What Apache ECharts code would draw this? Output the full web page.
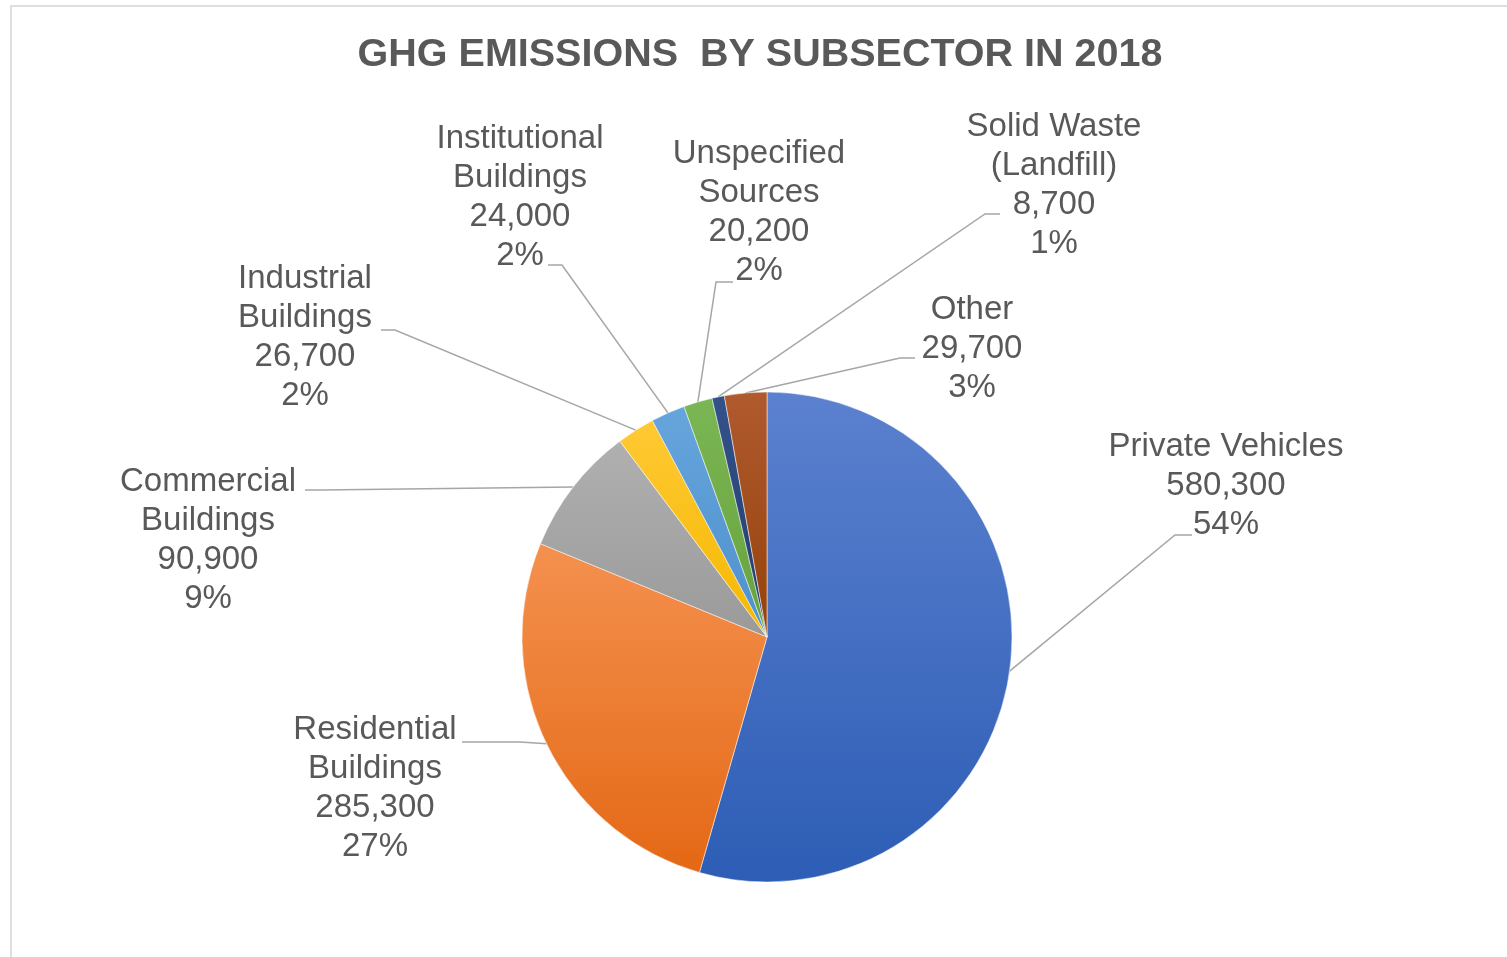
<!DOCTYPE html>
<html>
<head>
<meta charset="utf-8">
<title>GHG Emissions by Subsector in 2018</title>
<script src="https://cdn.jsdelivr.net/npm/echarts@6/dist/echarts.min.js"></script>
<style>
  html, body { margin: 0; padding: 0; background: #fff; }
  #chart { width: 1507px; height: 957px; }
</style>
</head>
<body>
<div id="chart"></div>
<script>
// data
var categories = ['Private Vehicles', 'Residential\nBuildings', 'Commercial\nBuildings', 'Industrial\nBuildings',
  'Institutional\nBuildings', 'Unspecified\nSources', 'Solid Waste\n(Landfill)', 'Other'];
var emissions = [580300, 285300, 90900, 26700, 24000, 20200, 8700, 29700];
var percentLabels = [54, 27, 9, 2, 2, 2, 1, 3];

// slice colours, light (top) -> dark (bottom)
var colors = [
  ['#5b81cf', '#2d5db5'],
  ['#f4914f', '#e46815'],
  ['#b0b0b0', '#9a9a9a'],
  ['#ffc934', '#f5b800'],
  ['#66a5dc', '#4f90cc'],
  ['#7bb654', '#66a23d'],
  ['#34528a', '#223d6d'],
  ['#b05a2e', '#94420c']
];

// label placement: centre of the text block, leader elbow, leader end
var labelPos = [
  { c: [1226, 486], elbow: [1175, 535], end: [1192, 535] },
  { c: [375, 788], elbow: [520, 742], end: [462, 742] },
  { c: [208, 540], elbow: [320, 490], end: [305, 490] },
  { c: [305, 337], elbow: [395, 330], end: [381, 330] },
  { c: [520, 197], elbow: [562, 265], end: [548, 265] },
  { c: [759, 212], elbow: [716, 282], end: [733, 282] },
  { c: [1054, 185], elbow: [985, 214], end: [1000, 214] },
  { c: [972, 349], elbow: [900, 358], end: [915, 358] }
];

function fmt(n) {
  return n.toString().replace(/\B(?=(\d{3})+(?!\d))/g, ',');
}

var chart = echarts.init(document.getElementById('chart'));

var option = {
  backgroundColor: '#fff',
  animation: false,
  title: {
    text: 'GHG EMISSIONS  BY SUBSECTOR IN 2018',
    left: 760,
    textAlign: 'center',
    top: 35,
    padding: 0,
    textStyle: {
      fontFamily: 'Liberation Sans, Arial, sans-serif',
      fontSize: 39.5,
      fontWeight: 'bold',
      color: '#595959'
    }
  },
  graphic: [{
    type: 'rect',
    silent: true,
    shape: { x: 11, y: 6, width: 3000, height: 3000 },
    style: { fill: 'none', stroke: '#dedede', lineWidth: 2 }
  }],
  series: [{
    type: 'pie',
    center: [767, 637],
    radius: 245,
    startAngle: 90,
    clockwise: true,
    avoidLabelOverlap: false,
    itemStyle: { borderColor: '#fff', borderWidth: 0.5 },
    label: {
      show: true,
      position: 'outside',
      fontFamily: 'Liberation Sans, Arial, sans-serif',
      fontSize: 33,
      lineHeight: 39,
      color: '#595959',
      align: 'center',
      formatter: function (p) {
        return p.name + '\n' + fmt(p.value) + '\n' + percentLabels[p.dataIndex] + '%';
      }
    },
    labelLine: {
      show: true,
      lineStyle: { color: '#a6a6a6', width: 1.5 }
    },
    labelLayout: function (params) {
      var lp = labelPos[params.dataIndex];
      var start = params.labelLinePoints ? params.labelLinePoints[0] : lp.elbow;
      return {
        x: lp.c[0],
        y: lp.c[1],
        align: 'center',
        verticalAlign: 'middle',
        labelLinePoints: [start, lp.elbow, lp.end]
      };
    },
    data: emissions.map(function (v, i) {
      return {
        name: categories[i],
        value: v,
        itemStyle: {
          color: new echarts.graphic.LinearGradient(0, 0, 0, 1, [
            { offset: 0, color: colors[i][0] },
            { offset: 1, color: colors[i][1] }
          ])
        }
      };
    })
  }]
};

chart.setOption(option);
</script>
</body>
</html>
